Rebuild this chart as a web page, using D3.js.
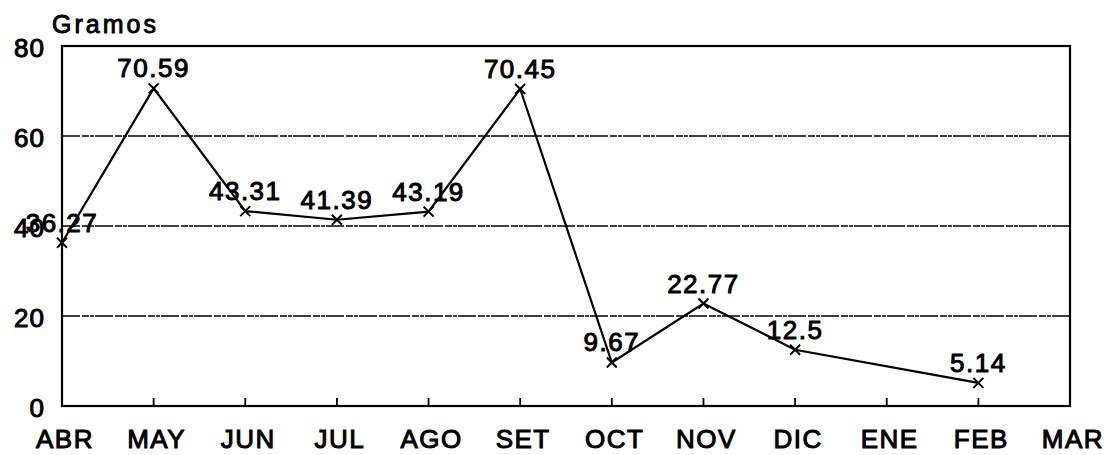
<!DOCTYPE html>
<html>
<head>
<meta charset="utf-8">
<script src="https://cdn.jsdelivr.net/npm/d3@7"></script>
<style>
  body { margin: 0; background: #fff; }
  text { font-family: "Liberation Sans", Arial, sans-serif; fill: #000; }
</style>
</head>
<body>
<script>
// months on the x axis (ABR .. MAR)
var months = ["ABR", "MAY", "JUN", "JUL", "AGO", "SET", "OCT", "NOV", "DIC", "ENE", "FEB", "MAR"];
// grams per month, null where no value is plotted
var gramos = [36.27, 70.59, 43.31, 41.39, 43.19, 70.45, 9.67, 22.77, 12.5, null, 5.14, null];
var valueLabels = ["36.27", "70.59", "43.31", "41.39", "43.19", "70.45", "9.67", "22.77", "12.5", "", "5.14", ""];
var yTicks = [0, 20, 40, 60, 80];

var width = 1109, height = 455;
// note: "top" is taken by window.top, so use plot* names
var plotLeft = 62, plotRight = 1070, plotTop = 46, plotBottom = 406;

var svg = d3.select("body").append("svg")
    .attr("width", width)
    .attr("height", height);

var x = d3.scalePoint().domain(months).range([plotLeft, plotRight]).padding(0);
var y = d3.scaleLinear().domain([0, 80]).range([plotBottom, plotTop]);

// horizontal grid lines (scanned look: dense dashes)
svg.selectAll("line.grid")
    .data(yTicks.filter(function(d) { return d > 0 && d < 80; }))
  .enter().append("line")
    .attr("class", "grid")
    .attr("x1", plotLeft).attr("x2", plotRight)
    .attr("y1", function(d) { return y(d); })
    .attr("y2", function(d) { return y(d); })
    .attr("stroke", "#000")
    .attr("stroke-width", 1.6)
    .attr("stroke-dasharray", "18 2 7 1 4 1");

// frame
svg.append("rect")
    .attr("x", plotLeft).attr("y", plotTop)
    .attr("width", plotRight - plotLeft).attr("height", plotBottom - plotTop)
    .attr("fill", "none")
    .attr("stroke", "#000")
    .attr("stroke-width", 2.2);

// small inward ticks on the bottom axis
svg.selectAll("line.xtick")
    .data(months.slice(1, -1))
  .enter().append("line")
    .attr("class", "xtick")
    .attr("x1", function(d) { return x(d); })
    .attr("x2", function(d) { return x(d); })
    .attr("y1", plotBottom).attr("y2", plotBottom - 8)
    .attr("stroke", "#000")
    .attr("stroke-width", 1.8);

// y axis labels
svg.selectAll("text.ylab")
    .data(yTicks)
  .enter().append("text")
    .attr("class", "ylab")
    .attr("x", 45)
    .attr("y", function(d) { return y(d); })
    .attr("dy", "0.42em")
    .attr("text-anchor", "end")
    .attr("font-size", 26)
    .attr("letter-spacing", 1)
    .attr("stroke", "#000").attr("stroke-width", 1)
    .text(function(d) { return d; });

svg.append("text")
    .attr("x", 52).attr("y", 33)
    .attr("font-size", 25)
    .attr("letter-spacing", 3)
    .attr("stroke", "#000").attr("stroke-width", 0.9)
    .text("Gramos");

// x axis labels
svg.selectAll("text.xlab")
    .data(months)
  .enter().append("text")
    .attr("class", "xlab")
    .attr("x", function(d) { return x(d) + 3; })
    .attr("y", 448)
    .attr("text-anchor", "middle")
    .attr("font-size", 26)
    .attr("letter-spacing", 1.5)
    .attr("stroke", "#000").attr("stroke-width", 1)
    .text(function(d) { return d; });

var pts = months.map(function(m, i) { return { m: m, v: gramos[i], label: valueLabels[i] }; })
    .filter(function(d) { return d.v !== null; });

var line = d3.line()
    .x(function(d) { return x(d.m); })
    .y(function(d) { return y(d.v); });

svg.append("path")
    .datum(pts)
    .attr("d", line)
    .attr("fill", "none")
    .attr("stroke", "#000")
    .attr("stroke-width", 2.2);

// x markers
var s = 5;
svg.selectAll("path.mark")
    .data(pts)
  .enter().append("path")
    .attr("class", "mark")
    .attr("d", function(d) {
      var cx = x(d.m), cy = y(d.v);
      return "M" + (cx - s) + "," + (cy - s) + "L" + (cx + s) + "," + (cy + s) +
             "M" + (cx - s) + "," + (cy + s) + "L" + (cx + s) + "," + (cy - s);
    })
    .attr("stroke", "#000")
    .attr("stroke-width", 2);

// value labels
svg.selectAll("text.val")
    .data(pts)
  .enter().append("text")
    .attr("class", "val")
    .attr("x", function(d) { return x(d.m); })
    .attr("y", function(d) { return y(d.v) - 11; })
    .attr("text-anchor", "middle")
    .attr("font-size", 26)
    .attr("letter-spacing", 1.5)
    .attr("stroke", "#000").attr("stroke-width", 1)
    .text(function(d) { return d.label; });
</script>
</body>
</html>
